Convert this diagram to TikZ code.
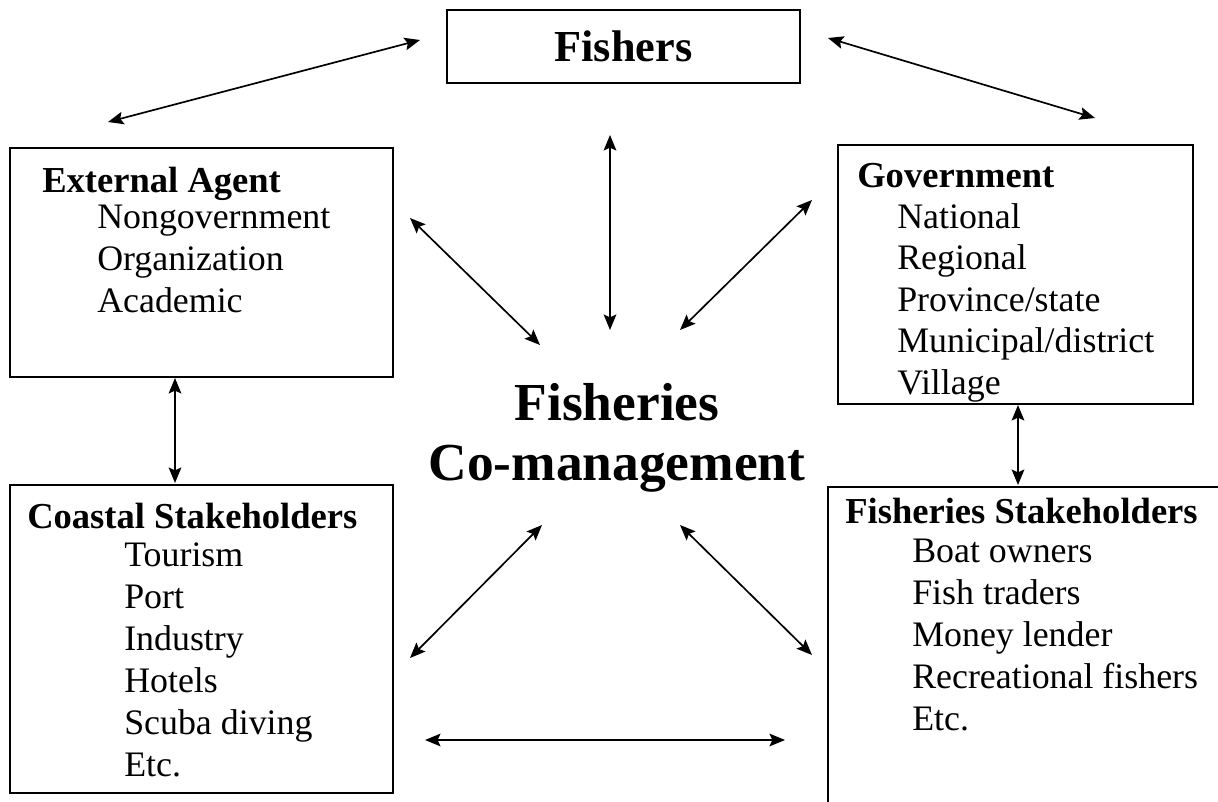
\documentclass[tikz,border=0pt]{standalone}
\usepackage{fontspec}
\setmainfont{Liberation Serif}
\usetikzlibrary{arrows.meta, positioning}

\begin{document}
\begin{tikzpicture}[x=0.025cm, y=-0.025cm, >={Stealth[length=11pt, width=9pt, inset=2pt]},
  box/.style={draw, line width=1.5pt, rectangle, inner sep=0pt, outer sep=0pt},
  head/.style={anchor=base west, inner sep=0pt, font=\fontsize{26}{30}\selectfont\bfseries},
  item/.style={anchor=base west, inner sep=0pt, font=\fontsize{25.5}{30}\selectfont},
  link/.style={<->, line width=1.2pt}]
  \useasboundingbox (0,0) rectangle (1218,802);

  % Cajas
  \node[box, minimum width=8.825cm, minimum height=1.825cm] (fishers) at (623.5,46.5)
    {\fontsize{31.5}{36}\selectfont\bfseries Fishers};
  \node[box, minimum width=9.575cm, minimum height=5.725cm] (extagent) at (201.5,262.5) {};
  \node[box, minimum width=8.875cm, minimum height=6.475cm] (gov) at (1015.5,274.5) {};
  \node[box, minimum width=9.575cm, minimum height=7.7cm] (coastal) at (201.5,639) {};
  \node[box, minimum width=10.05cm, minimum height=8.575cm] (fishst) at (1029,658.5) {};

  % Textos de las cajas
  \node[head] (extagenthead) at (42,192) {External Agent};
  \foreach \t [count=\i] in {Nongovernment, Organization, Academic}
    \node[item] (extagent\i) at (97,{228+42*(\i-1)}) {\t};

  \node[head] (govhead) at (857,187) {Government};
  \foreach \t [count=\i] in {National, Regional, Province/state, Municipal/district, Village}
    \node[item] (gov\i) at (897,{228+41.5*(\i-1)}) {\t};

  \node[head] (coastalhead) at (27,528) {Coastal Stakeholders};
  \foreach \t [count=\i] in {Tourism, Port, Industry, Hotels, Scuba diving, Etc.}
    \node[item] (coastal\i) at (124,{566+42*(\i-1)}) {\t};

  \node[head] (fishsthead) at (845,523) {Fisheries Stakeholders};
  \foreach \t [count=\i] in {Boat owners, Fish traders, Money lender, Recreational fishers, Etc.}
    \node[item] (fishst\i) at (912,{562+42*(\i-1)}) {\t};

  % Centro
  \node[anchor=base, inner sep=0pt, font=\fontsize{38}{44}\selectfont\bfseries] (cofish) at (617,420) {Fisheries};
  \node[anchor=base, inner sep=0pt, font=\fontsize{38}{44}\selectfont\bfseries] (coman) at (617,480) {Co-management};

  % Extremos de las flechas
  \coordinate (fa1) at (108,122);  \coordinate (fa2) at (420,40);
  \coordinate (fb1) at (828,38);   \coordinate (fb2) at (1095,118);
  \coordinate (fc1) at (610,135);  \coordinate (fc2) at (610,330);
  \coordinate (fd1) at (410,218);  \coordinate (fd2) at (540,345);
  \coordinate (fe1) at (812,200);  \coordinate (fe2) at (680,330);
  \coordinate (ff1) at (175,378);  \coordinate (ff2) at (175,483);
  \coordinate (fg1) at (1018,405); \coordinate (fg2) at (1018,485);
  \coordinate (fh1) at (542,525);  \coordinate (fh2) at (410,658);
  \coordinate (fi1) at (680,525);  \coordinate (fi2) at (812,655);
  \coordinate (fj1) at (425,740);  \coordinate (fj2) at (785,740);

  % Flechas
  \draw[link] (fa1) -- (fa2);
  \draw[link] (fb1) -- (fb2);
  \draw[link] (fc1) -- (fc2);
  \draw[link] (fd1) -- (fd2);
  \draw[link] (fe1) -- (fe2);
  \draw[link] (ff1) -- (ff2);
  \draw[link] (fg1) -- (fg2);
  \draw[link] (fh1) -- (fh2);
  \draw[link] (fi1) -- (fi2);
  \draw[link] (fj1) -- (fj2);
\end{tikzpicture}
\end{document}
